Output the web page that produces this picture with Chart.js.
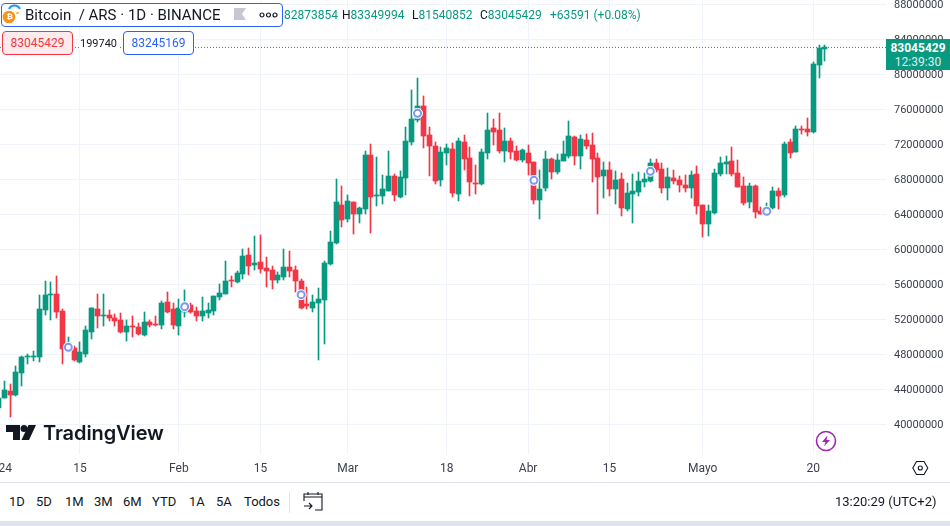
<!DOCTYPE html>
<html lang="es"><head><meta charset="utf-8"><title>Bitcoin / ARS</title>
<style>
html,body{margin:0;padding:0;background:#fff;width:950px;height:526px;overflow:hidden;font-family:Roboto,sans-serif;color:#131722}
#wrap{position:relative;width:950px;height:526px;overflow:hidden}
canvas{position:absolute;left:0;top:0}
.t{position:absolute;white-space:nowrap;line-height:1}
.g{color:#089981}
.sep{position:absolute;left:0;width:950px;background:#e0e3eb}
.btn{position:absolute;top:495px;font-size:13px;line-height:14px;white-space:nowrap}
</style></head><body>
<div id="wrap">
<canvas id="c" width="950" height="482"></canvas>

<div class="t g" style="left:283px;top:9px;font-size:12px;width:55px;overflow:hidden;text-align:right"><span style="float:right">82873854</span></div>
<div class="t" style="left:342px;top:9px;font-size:12px"><span style="color:#131722">H</span><span class="g">83349994</span></div>
<div class="t" style="left:412px;top:9px;font-size:12px"><span style="color:#131722">L</span><span class="g">81540852</span></div>
<div class="t" style="left:480px;top:9px;font-size:12px"><span style="color:#131722">C</span><span class="g">83045429</span></div>
<div class="t g" style="left:550px;top:9px;font-size:12px">+63591 (+0.08%)</div>

<div style="position:absolute;left:1px;top:3px;width:280px;height:22px;border:1px solid #2962ff;border-radius:4px;background:#fff"></div>
<svg style="position:absolute;left:0;top:3px" width="24" height="24">
  <path d="M9 6 a6 6 0 0 1 11 0" fill="none" stroke="#2196f3" stroke-width="2"/>
  <circle cx="9" cy="14" r="6.3" fill="#f7931a"/>
  <rect x="16" y="9" width="3" height="2" fill="#f7c36a"/>
</svg>
<div class="t" style="left:6.5px;top:13px;font-size:8px;color:#fff;font-weight:700">₿</div>
<div class="t" style="left:25px;top:8px;font-size:15px">Bitcoin &nbsp;/ ARS · 1D · BINANCE</div>
<svg style="position:absolute;left:234px;top:8px" width="13" height="13"><path d="M0 0H12L8 6L12 12H0Z" fill="#c5c8d2"/></svg>
<svg style="position:absolute;left:259px;top:11px" width="19" height="8"><g fill="none" stroke="#131722" stroke-width="1.2"><circle cx="3" cy="4" r="2"/><circle cx="9.5" cy="4" r="2"/><circle cx="16" cy="4" r="2"/></g></svg>

<div class="t" style="left:2px;top:31px;width:69px;height:22px;border:1px solid #f23645;border-radius:4px;background:#ffebec;color:#f23645;font-size:12px;line-height:22px;text-align:center">83045429</div>
<div class="t" style="left:79px;top:38px;width:39px;background:#fff;font-size:11px;line-height:11px;text-align:center">199740</div>
<div class="t" style="left:123px;top:31px;width:69px;height:22px;border:1px solid #2962ff;border-radius:4px;background:#fff;color:#2962ff;font-size:12px;line-height:22px;text-align:center">83245169</div>

<div class="t" style="left:886px;top:39px;width:64px;height:31px;background:#089981;color:#fff;text-align:center;font-size:12px">
  <div style="margin-top:2px;line-height:14px;font-weight:700">83045429</div>
  <div style="line-height:14px;opacity:.85">12:39:30</div>
</div>

<svg style="position:absolute;left:0;top:420px" width="40" height="24"><path d="M6 5H20V20H13V12H6Z" fill="#131722"/><circle cx="24" cy="8.5" r="3.5" fill="#131722"/><path d="M28.5 5H36L29 20H21.5Z" fill="#131722"/></svg>
<div class="t" style="left:43px;top:423px;font-size:20px;font-family:Inter,sans-serif;font-weight:600;letter-spacing:-.1px">TradingView</div>

<svg style="position:absolute;left:814px;top:429px" width="24" height="24"><circle cx="12" cy="12" r="9.5" fill="#fff" stroke="#9c27b0" stroke-width="1.6"/><path d="M13.5 6.5L8 13H11.5L10 17.5L16 11H12.5Z" fill="#9c27b0"/></svg>
<svg style="position:absolute;left:912px;top:460px" width="17" height="16"><path d="M4.5 1.5H12L15.8 8L12 14.5H4.5L.8 8Z" fill="none" stroke="#131722" stroke-width="1.1"/><circle cx="8.3" cy="8" r="2" fill="none" stroke="#131722" stroke-width="1.1"/></svg>

<div class="sep" style="top:482px;height:1px"></div>
<div class="btn" style="left:9px">1D</div>
<div class="btn" style="left:36px">5D</div>
<div class="btn" style="left:65px">1M</div>
<div class="btn" style="left:94px">3M</div>
<div class="btn" style="left:123px">6M</div>
<div class="btn" style="left:152px">YTD</div>
<div class="btn" style="left:189px">1A</div>
<div class="btn" style="left:216px">5A</div>
<div class="btn" style="left:244px">Todos</div>
<div style="position:absolute;left:289px;top:491px;width:1px;height:22px;background:#e0e3eb"></div>
<svg style="position:absolute;left:303px;top:491px" width="20" height="22"><g fill="none" stroke="#131722" stroke-width="1.1"><path d="M1 6H19M1 6V3H19V6M5 1V4M15 1V4M1 6V10M19 6V19H12"/><path d="M1 15H9M6 12L9 15L6 18"/></g></svg>
<div class="btn" style="left:835px">13:20:29 (UTC+2)</div>
<div class="sep" style="top:521px;height:5px"></div>
</div>

<script src="https://cdn.jsdelivr.net/npm/chart.js@4"></script>
<script>
const opens = [41850000,43060000,43820000,43410000,45920000,47750000,47780000,47740000,53070000,54800000,
54900000,52960000,48430000,48730000,47130000,48050000,50560000,53180000,52420000,52500000,
52160000,51930000,50560000,51250000,51130000,50220000,51700000,51420000,51360000,53980000,
53180000,51240000,52880000,53640000,52960000,52390000,52730000,52960000,54550000,54900000,
56500000,56270000,57180000,59350000,58210000,58550000,57870000,57640000,56500000,56840000,
57980000,57640000,56380000,53760000,53300000,53870000,54210000,58320000,60720000,65060000,
63460000,65400000,64030000,64600000,70760000,66080000,66080000,66660000,68370000,65970000,
68140000,72250000,74760000,76360000,73050000,71790000,67910000,70990000,71450000,66310000,
72250000,70420000,67570000,67450000,70990000,73850000,73620000,71220000,72360000,71220000,
70190000,70990000,69970000,65630000,67000000,70310000,68820000,70080000,70650000,72820000,
70650000,72480000,71910000,70420000,68370000,69050000,66880000,68020000,64600000,66310000,
66540000,67680000,67800000,69850000,69170000,67000000,68140000,67910000,67340000,67000000,
68600000,65060000,62890000,64140000,68600000,69740000,70080000,68710000,67230000,65400000,
67230000,64370000,64030000,64710000,66660000,66200000,72250000,71110000,73750000,73730000,
73390000,81040000,82873854];
const highs = [43180000,44970000,44620000,46680000,47820000,48010000,48390000,54780000,56380000,56270000,
56950000,53180000,49990000,48960000,49420000,51240000,53350000,54900000,54900000,53070000,
52610000,52730000,51930000,52390000,51590000,52840000,51930000,52390000,54100000,55130000,
53870000,54330000,55350000,53870000,53410000,54550000,53870000,54700000,56040000,58660000,
56950000,57520000,60030000,60150000,61520000,61630000,59120000,58090000,57410000,60030000,
59810000,58090000,56610000,55700000,54780000,55580000,58660000,62090000,68020000,67230000,
66200000,65450000,64830000,71220000,72020000,70540000,68480000,71220000,68600000,68940000,
73960000,78180000,79550000,77500000,73960000,72250000,71680000,72020000,72130000,72710000,
73050000,71680000,69620000,71450000,75560000,74870000,75560000,73850000,72710000,71790000,
71450000,71910000,70000000,69050000,71220000,70420000,70880000,72360000,74650000,72950000,
73050000,73160000,73280000,70990000,70000000,69970000,68940000,68710000,67570000,68600000,
68820000,68710000,70310000,70310000,69850000,69280000,69050000,68370000,68480000,68940000,
69510000,65100000,65060000,69170000,70540000,70650000,71680000,70190000,68250000,67570000,
67340000,64830000,65290000,67110000,67000000,72250000,72590000,74080000,74080000,74990000,
81380000,83320000,83349994];
const lows = [41770000,43000000,40890000,43290000,44390000,46910000,47250000,47130000,52500000,51930000,
52160000,46910000,48310000,47250000,47050000,47710000,49760000,51020000,51240000,51820000,
51240000,50450000,49530000,49990000,50220000,50100000,51130000,51240000,50900000,52730000,
50900000,50220000,52270000,52730000,51820000,51820000,52160000,52500000,54210000,54850000,
55700000,56150000,56610000,57070000,57640000,57290000,55700000,55470000,56150000,56500000,
56840000,55130000,53180000,53180000,52840000,47360000,49190000,58210000,60600000,62550000,
63120000,61750000,63000000,64030000,61860000,64940000,65170000,66600000,65510000,65860000,
66200000,71910000,74530000,71560000,68370000,67450000,67230000,69620000,65970000,65510000,
69050000,66080000,66310000,67340000,70310000,71910000,70990000,69970000,70310000,70080000,
69970000,68480000,65170000,63460000,66660000,68020000,68600000,70050000,70420000,69620000,
69170000,71450000,67680000,64030000,65860000,66080000,65170000,63800000,64370000,63000000,
66080000,67110000,67680000,68820000,66430000,65630000,67450000,66540000,66540000,65860000,
64030000,61400000,61520000,64030000,68370000,68600000,68370000,67100000,65060000,64710000,
63570000,64000000,63920000,64600000,64600000,65970000,70420000,71100000,73160000,72930000,
73280000,79550000,81540852];
const closes = [43060000,43940000,43370000,45990000,47710000,47850000,47850000,53180000,54780000,54900000,
52840000,48620000,49270000,47360000,48280000,50790000,53300000,52390000,52500000,52160000,
51820000,50560000,51240000,51170000,50330000,51700000,51360000,51360000,53870000,52840000,
51360000,53300000,53830000,52840000,52390000,52960000,53070000,54670000,55010000,56380000,
56400000,57290000,59240000,58090000,58440000,57750000,57520000,56500000,57070000,57980000,
57520000,56380000,53300000,53530000,53980000,54330000,58440000,60830000,65400000,63340000,
65510000,64030000,64710000,70760000,65970000,66160000,66880000,68370000,66200000,68250000,
72360000,74870000,76360000,72930000,71790000,67800000,71110000,71560000,66430000,72360000,
70310000,67680000,67490000,71110000,73620000,73390000,71220000,72360000,71110000,70190000,
71340000,69850000,65630000,66880000,70310000,68820000,70190000,70880000,72930000,70650000,
72590000,71790000,70310000,68250000,69050000,66880000,67910000,64710000,66430000,66660000,
67800000,68020000,69850000,69050000,67000000,68250000,67800000,67340000,67000000,68480000,
64940000,62890000,64370000,68710000,69850000,69970000,68600000,67110000,65290000,67230000,
64260000,64030000,64710000,66660000,66080000,72020000,70990000,73730000,73650000,73390000,
81150000,82980000,83045429];
const tickDays = [0,14,31,45,60,77,91,105,121,140];
const tickLabels = ['2024','15','Feb','15','Mar','18','Abr','15','Mayo','20'];
const priceTicks = [40000000,44000000,48000000,52000000,56000000,60000000,64000000,68000000,72000000,76000000,80000000,84000000,88000000];
const markerDays = [12,32,52,72,92,112,132];
const markerPrices = [48810000,53450000,54820000,75520000,67870000,68900000,64340000];
const lastPrice = 83045429;

const UP='#089981', DOWN='#f23645', GRID='#f0f3fa';
const xMin=0.258, xMax=152.49, yMin=36630000, yMax=88460000;
const candleColors = opens.map((o,i)=>closes[i]>=o?UP:DOWN);

const snap = {
  id:'snap',
  afterDatasetsUpdate(chart){
    chart.getSortedVisibleDatasetMetas().forEach(m=>{
      if(m.type!=='bar') return;
      m.data.forEach(el=>{
        el.x=Math.floor(el.x)+0.5;
        el.y=Math.round(el.y); el.base=Math.round(el.base);
        if(el.y===el.base) el.base=el.y+1;
      });
    });
  }
};

new Chart(document.getElementById('c'),{
  type:'bar',
  plugins:[snap],
  data:{datasets:[
    {type:'line',order:4,data:[{x:xMin,y:lastPrice},{x:xMax,y:lastPrice}],borderColor:UP,borderWidth:1,borderDash:[1,2],pointRadius:0,fill:false},
    {order:3,data:opens.map((o,i)=>({x:i,y:[lows[i],highs[i]]})),backgroundColor:candleColors,barThickness:1,grouped:false,borderWidth:0},
    {order:2,data:opens.map((o,i)=>({x:i,y:[Math.min(o,closes[i]),Math.max(o,closes[i])]})),backgroundColor:candleColors,barThickness:5,grouped:false,borderWidth:0},
    {type:'line',order:1,showLine:false,data:markerDays.map((d,i)=>({x:d,y:markerPrices[i]})),pointRadius:5,pointBackgroundColor:'#fff',pointBorderColor:'#fff',pointBorderWidth:1},
    {type:'line',order:0,showLine:false,data:markerDays.map((d,i)=>({x:d,y:markerPrices[i]})),pointRadius:3.5,pointBackgroundColor:'#fff',pointBorderColor:'#7a97f2',pointBorderWidth:2}
  ]},
  options:{
    responsive:false,animation:false,devicePixelRatio:1,
    layout:{padding:0,autoPadding:false},
    plugins:{legend:{display:false},tooltip:{enabled:false}},
    scales:{
      x:{type:'linear',min:xMin,max:xMax,offset:false,position:'bottom',
        afterFit(s){s.height=28;s.paddingLeft=0;s.paddingRight=0;s.paddingTop=0;s.paddingBottom=0;},
        afterBuildTicks(s){s.ticks=tickDays.map(v=>({value:v}));},
        border:{display:false},
        grid:{color:GRID,offset:false,drawTicks:false,lineWidth:1},
        ticks:{autoSkip:false,maxRotation:0,padding:8,color:'#3c404c',font:{family:'Roboto',size:12},
          callback(v){const k=tickDays.indexOf(v);return k<0?'':tickLabels[k];}}
      },
      y:{type:'linear',position:'right',min:yMin,max:yMax,
        afterFit(s){s.width=64;s.paddingTop=0;s.paddingBottom=0;s.paddingLeft=0;s.paddingRight=0;},
        afterBuildTicks(s){s.ticks=priceTicks.map(v=>({value:v}));},
        border:{display:false},
        grid:{color:GRID,drawTicks:false,lineWidth:1},
        ticks:{padding:8,labelOffset:1,color:'#3c404c',font:{family:'Roboto',size:11},callback(v){return String(v);}}
      }
    }
  }
});
</script>
</body></html>
